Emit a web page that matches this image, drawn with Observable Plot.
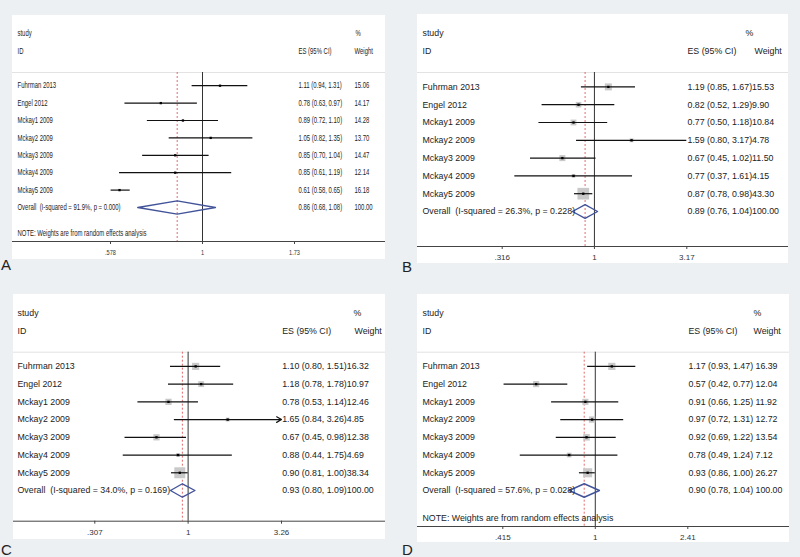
<!DOCTYPE html>
<html><head><meta charset="utf-8">
<script src="https://cdn.jsdelivr.net/npm/d3@7"></script>
<script src="https://cdn.jsdelivr.net/npm/@observablehq/plot@0.6"></script>
<style>
body{margin:0;background:#edf0f2;}
#wrap{position:relative;width:800px;height:557px;background:#edf0f2;overflow:hidden;font-family:Arial,"Liberation Sans",sans-serif;}
.lab{position:absolute;font-size:15px;line-height:1;color:#222;}
</style></head><body><div id="wrap"></div>
<script>
// ---- data ----
const studies = ["Fuhrman 2013","Engel 2012","Mckay1 2009","Mckay2 2009","Mckay3 2009","Mckay4 2009","Mckay5 2009"];
const noteText = "NOTE: Weights are from random effects analysis";

const esA = [1.11, 0.78, 0.89, 1.05, 0.85, 0.85, 0.61];
const loA = [0.94, 0.63, 0.72, 0.82, 0.70, 0.61, 0.58];
const hiA = [1.31, 0.97, 1.10, 1.35, 1.04, 1.19, 0.65];
const wA  = [15.06, 14.17, 14.28, 13.70, 14.47, 12.14, 16.18];
const overallA = [0.86, 0.68, 1.08];
const hetA = ["91.9%", "0.000"];
const ticksA = [0.578, 1, 1.73];
const tickLabelsA = [".578", "1", "1.73"];

const esB = [1.19, 0.82, 0.77, 1.59, 0.67, 0.77, 0.87];
const loB = [0.85, 0.52, 0.50, 0.80, 0.45, 0.37, 0.78];
const hiB = [1.67, 1.29, 1.18, 3.17, 1.02, 1.61, 0.98];
const wB  = [15.53, 9.90, 10.84, 4.78, 11.50, 4.15, 43.30];
const overallB = [0.89, 0.76, 1.04];
const hetB = ["26.3%", "0.228"];
const ticksB = [0.316, 1, 3.17];
const tickLabelsB = [".316", "1", "3.17"];

const esC = [1.10, 1.18, 0.78, 1.65, 0.67, 0.88, 0.90];
const loC = [0.80, 0.78, 0.53, 0.84, 0.45, 0.44, 0.81];
const hiC = [1.51, 1.78, 1.14, 3.26, 0.98, 1.75, 1.00];
const wC  = [16.32, 10.97, 12.46, 4.85, 12.38, 4.69, 38.34];
const overallC = [0.93, 0.80, 1.09];
const hetC = ["34.0%", "0.169"];
const ticksC = [0.307, 1, 3.26];
const tickLabelsC = [".307", "1", "3.26"];

const esD = [1.17, 0.57, 0.91, 0.97, 0.92, 0.78, 0.93];
const loD = [0.93, 0.42, 0.66, 0.72, 0.69, 0.49, 0.86];
const hiD = [1.47, 0.77, 1.25, 1.31, 1.22, 1.24, 1.00];
const wD  = [16.39, 12.04, 11.92, 12.72, 13.54, 7.12, 26.27];
const overallD = [0.90, 0.78, 1.04];
const hetD = ["57.6%", "0.028"];
const ticksD = [0.415, 1, 2.41];
const tickLabelsD = [".415", "1", "2.41"];

// ---- layout ----
const layouts = [
  {label:"A", left:12, top:15, width:373, height:244, rowTop:18, rowStep:17.4, axisY:226, headY:57, noteIdx:11.49,
   x0:98, x1:282, nameX:5, esX:286, wX:342, pctX:343, fontSize:8.5, squeeze:0.7, boxes:false, arrow:false, join:null,
   labX:1, labBase:270},
  {label:"B", left:417, top:14, width:371, height:249, rowTop:19, rowStep:17.8, axisY:232, headY:58, noteIdx:null,
   x0:84.7, x1:269.3, nameX:5, esX:270, wX:337, pctX:328, fontSize:8.8, squeeze:1, boxes:true, arrow:false, join:"",
   labX:402, labBase:272},
  {label:"C", left:13, top:294, width:372, height:245, rowTop:18.7, rowStep:17.73, axisY:226.7, headY:57.7, noteIdx:null,
   x0:81.3, x1:268, nameX:4, esX:268.7, wX:341, pctX:340, fontSize:8.8, squeeze:1, boxes:true, arrow:true, join:"",
   labX:1, labBase:555},
  {label:"D", left:417, top:294, width:372, height:248, rowTop:18.7, rowStep:17.73, axisY:232, headY:57.7, noteIdx:11.58,
   x0:85.3, x1:270.3, nameX:5, esX:271, wX:336, pctX:336, fontSize:8.8, squeeze:1, boxes:true, arrow:false, join:" ",
   labX:402, labBase:555}
];
const panels = [
  {es:esA, lo:loA, hi:hiA, w:wA, overall:overallA, het:hetA, ticks:ticksA, tickLabels:tickLabelsA, note:true},
  {es:esB, lo:loB, hi:hiB, w:wB, overall:overallB, het:hetB, ticks:ticksB, tickLabels:tickLabelsB, note:false},
  {es:esC, lo:loC, hi:hiC, w:wC, overall:overallC, het:hetC, ticks:ticksC, tickLabels:tickLabelsC, note:false},
  {es:esD, lo:loD, hi:hiD, w:wD, overall:overallD, het:hetD, ticks:ticksD, tickLabels:tickLabelsD, note:true}
];

function forest(d, L) {
  const rows = studies.map((name, k) => ({i: k + 3, name, es: d.es[k], lo: d.lo[k], hi: d.hi[k], w: d.w[k]}));
  const ovIdx = 10;
  const axisIdx = (L.axisY - L.rowTop) / L.rowStep;
  const headIdx = (L.headY - L.rowTop) / L.rowStep;
  const tickEnd = axisIdx + 3 / L.rowStep;
  const tickLabIdx = axisIdx + 11 / L.rowStep;
  const t0 = d.ticks[0], tN = d.ticks[d.ticks.length - 1];
  // log scale spanning the whole white box, placed so the outer ticks land at x0 / x1
  const k = (L.x1 - L.x0) / (Math.log(tN) - Math.log(t0));
  const domain = [t0 * Math.exp(-L.x0 / k), tN * Math.exp((L.width - L.x1) / k)];
  const arrowRows = L.arrow ? rows.filter(r => r.hi >= tN) : [];
  const lineRows = rows.filter(r => !arrowRows.includes(r));
  const [oe, ol, oh] = d.overall;
  const dh = 0.38;
  const dia = [{x: ol, y: ovIdx}, {x: oe, y: ovIdx - dh}, {x: oh, y: ovIdx}, {x: oe, y: ovIdx + dh}, {x: ol, y: ovIdx}];
  const f2 = v => v.toFixed(2);
  const ciText = (e, l, h) => `${f2(e)} (${f2(l)}, ${f2(h)})`;
  const fs = L.fontSize;
  const T = (data, dx, opts) => Plot.text(data, {frameAnchor: "left", textAnchor: "start", fontSize: fs, fill: "#222", dx, y: "i", text: "t", ...opts});

  const nameCol = rows.map(r => ({i: r.i, t: r.name}))
    .concat([{i: ovIdx, t: `Overall  (I-squared = ${d.het[0]}, p = ${d.het[1]})`}]);
  if (d.note) nameCol.push({i: L.noteIdx, t: noteText});
  let esCol, wCol = [];
  if (L.join === null) {
    esCol = rows.map(r => ({i: r.i, t: ciText(r.es, r.lo, r.hi)})).concat([{i: ovIdx, t: ciText(oe, ol, oh)}]);
    wCol = rows.map(r => ({i: r.i, t: f2(r.w)})).concat([{i: ovIdx, t: "100.00"}]);
  } else {
    esCol = rows.map(r => ({i: r.i, t: ciText(r.es, r.lo, r.hi) + L.join + f2(r.w)}))
      .concat([{i: ovIdx, t: ciText(oe, ol, oh) + L.join + "100.00"}]);
  }
  const tickData = d.ticks.map((v, j) => ({v, lab: d.tickLabels[j]}));

  const marks = [
    Plot.ruleY([headIdx], {stroke: "#e3e3e3"}),
    Plot.ruleX([oe], {y1: headIdx, y2: axisIdx, stroke: "#e05a5a", strokeDasharray: "2,2", strokeWidth: 0.9}),
    Plot.ruleX([1], {y1: headIdx, y2: axisIdx, stroke: "#333", strokeWidth: 1}),
    Plot.ruleY([axisIdx], {stroke: "#444"}),
    Plot.ruleX(tickData, {x: "v", y1: axisIdx, y2: tickEnd, stroke: "#444"}),
    Plot.text(tickData, {x: "v", y: tickLabIdx, text: "lab", fontSize: 8, fill: "#333"})
  ];
  if (L.boxes) marks.push(Plot.dot(rows, {x: "es", y: "i", r: "w", symbol: "square", fill: "#c9c9c9"}));
  marks.push(Plot.ruleY(lineRows, {y: "i", x1: "lo", x2: "hi", stroke: "#111", strokeWidth: 1.2}));
  if (arrowRows.length) marks.push(Plot.arrow(arrowRows, {x1: "lo", x2: "hi", y1: "i", y2: "i", stroke: "#111", strokeWidth: 1.2, headLength: 7}));
  marks.push(Plot.dot(rows, {x: "es", y: "i", r: 1.3, symbol: "square", fill: "#000"}));
  marks.push(Plot.line(dia, {x: "x", y: "y", stroke: "#42539a", strokeWidth: 1.4}));
  marks.push(T([{i: 0, t: "study"}, {i: 1, t: "ID"}], L.nameX));
  marks.push(T([{i: 1, t: "ES (95% CI)"}], L.esX));
  marks.push(T([{i: 0, t: "%"}], L.pctX));
  marks.push(T([{i: 1, t: "Weight"}], L.wX));
  marks.push(T(nameCol, L.nameX));
  marks.push(T(esCol, L.esX));
  if (wCol.length) marks.push(T(wCol, L.wX));

  const svg = Plot.plot({
    width: L.width, height: L.height,
    marginLeft: 0, marginRight: 0, marginTop: 0, marginBottom: 0,
    x: {type: "log", domain, range: [0, L.width], axis: null},
    y: {type: "linear", domain: [0, axisIdx], range: [L.rowTop, L.axisY], axis: null},
    r: {type: "sqrt", domain: [0, 100], range: [0, 10]},
    style: {fontFamily: "Arial, 'Liberation Sans', sans-serif", background: "#fff", overflow: "visible"},
    marks
  });
  if (L.squeeze !== 1) {
    svg.querySelectorAll('g[aria-label="text"] text').forEach(el => {
      const t = el.getAttribute("transform");
      if (t) el.setAttribute("transform", t + ` scale(${L.squeeze},1)`);
    });
  }
  svg.style.position = "absolute";
  svg.style.left = L.left + "px";
  svg.style.top = L.top + "px";
  return svg;
}

const wrap = document.getElementById("wrap");
layouts.forEach((L, k) => {
  wrap.appendChild(forest(panels[k], L));
  const lab = document.createElement("div");
  lab.className = "lab";
  lab.textContent = L.label;
  lab.style.left = L.labX + "px";
  lab.style.top = (L.labBase - 12.7) + "px";
  wrap.appendChild(lab);
});
</script>
</body></html>
